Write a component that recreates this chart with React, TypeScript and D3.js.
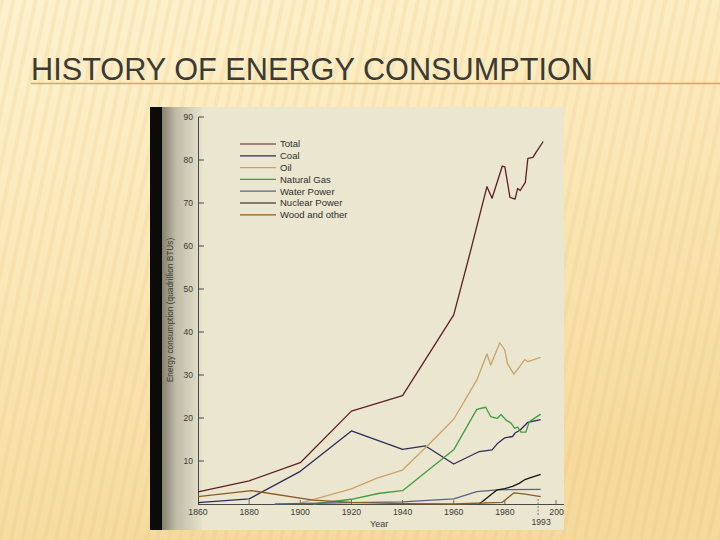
import React from "react";
import * as d3 from "d3";

// ---- Data ----
const xTickYears = [1860, 1880, 1900, 1920, 1940, 1960, 1980, 2000];
const yTickValues = [10, 20, 30, 40, 50, 60, 70, 80, 90];

const totalYears = [1860, 1880, 1900, 1920, 1940, 1960, 1966, 1973, 1975, 1979, 1980, 1982, 1984, 1985, 1986, 1988, 1989, 1991, 1992, 1995];
const totalValues = [2.8, 5.4, 9.6, 21.6, 25.2, 44, 57.5, 73.8, 71.1, 78.6, 78.4, 71.3, 70.9, 73.4, 72.9, 74.8, 80.4, 80.6, 81.6, 84.3];

const coalYears = [1860, 1880, 1900, 1920, 1940, 1949, 1960, 1970, 1975, 1977, 1980, 1983, 1984, 1986, 1989, 1994];
const coalValues = [0.3, 1.2, 7.6, 17, 12.7, 13.5, 9.3, 12.2, 12.6, 14.0, 15.4, 15.7, 16.5, 17.2, 19, 19.6];

const oilYears = [1900, 1920, 1930, 1940, 1952, 1960, 1969, 1973, 1974.5, 1978, 1980, 1981, 1983.5, 1985, 1987.8, 1989, 1994];
const oilValues = [0.2, 3.5, 6.0, 7.9, 14.9, 19.7, 28.8, 34.9, 32.3, 37.5, 35.8, 32.7, 30.2, 31.3, 33.6, 33.1, 34.1];

const gasYears = [1905, 1920, 1931, 1940, 1960, 1969, 1972.5, 1974.5, 1977, 1978.5, 1980.5, 1982.4, 1983.9, 1985, 1986.3, 1988.2, 1989.5, 1994];
const gasValues = [0, 1.1, 2.5, 3.1, 12.6, 22, 22.5, 20.3, 19.9, 20.8, 19.5, 18.8, 17.6, 17.9, 16.7, 16.7, 19.1, 20.9];

const waterYears = [1890, 1920, 1940, 1960, 1969, 1977, 1994];
const waterValues = [0, 0.3, 0.5, 1.2, 2.9, 3.3, 3.4];

const nuclearYears = [1970, 1977, 1980, 1983, 1985.6, 1987.6, 1989.5, 1994];
const nuclearValues = [0, 3.3, 3.6, 4.1, 4.8, 5.6, 6.0, 6.9];

const woodYears = [1860, 1881, 1905, 1920, 1940, 1960, 1979, 1983.6, 1988, 1994];
const woodValues = [1.7, 3.1, 0.9, 0.4, 0.1, 0, 0.4, 2.6, 2.3, 1.7];

const seriesNames = ["Total", "Coal", "Oil", "Natural Gas", "Water Power", "Nuclear Power", "Wood and other"];
const seriesColors = ["#5e1f24", "#2f2a58", "#c9a26a", "#3f9c3f", "#5a6282", "#141414", "#8b5a1e"];
const seriesYears = [totalYears, coalYears, oilYears, gasYears, waterYears, nuclearYears, woodYears];
const seriesValues = [totalValues, coalValues, oilValues, gasValues, waterValues, nuclearValues, woodValues];

export default function App() {
  const x = d3.scaleLinear().domain([1860, 2000]).range([198, 556]);
  const y = d3.scaleLinear().domain([0, 90]).range([504, 117]);
  const line = d3
    .line<[number, number]>()
    .x((d) => x(d[0]))
    .y((d) => y(d[1]));

  const font = "'Liberation Sans', Arial, sans-serif";

  return (
    <div style={{ position: "fixed", left: 0, top: 0, width: 720, height: 540 }}>
      <svg width={720} height={540} style={{ display: "block" }}>
        <defs>
          <linearGradient id="bgGrad" x1="0" y1="0" x2="0.3" y2="1">
            <stop offset="0" stopColor="#fdf2cf" />
            <stop offset="0.5" stopColor="#fbe7b6" />
            <stop offset="1" stopColor="#f5da9b" />
          </linearGradient>
          <pattern id="stripes" width="11" height="11" patternUnits="userSpaceOnUse" patternTransform="rotate(12)">
            <rect x="0" y="0" width="4" height="11" fill="#e6c480" opacity="0.2" />
          </pattern>
          <linearGradient id="leftShade" x1="0" y1="0" x2="1" y2="0">
            <stop offset="0" stopColor="#85816f" />
            <stop offset="0.35" stopColor="#c0bca8" />
            <stop offset="1" stopColor="#e6e1cb" />
          </linearGradient>
          <clipPath id="chartClip">
            <rect x={150} y={107} width={414} height={423} />
          </clipPath>
        </defs>

        {/* slide background */}
        <rect x={0} y={0} width={720} height={540} fill="url(#bgGrad)" />
        <rect x={0} y={0} width={720} height={540} fill="url(#stripes)" />

        {/* title */}
        <text
          x={31}
          y={80}
          fontFamily={font}
          fontSize={31}
          fill="#3b3a33"
          textLength={562}
          lengthAdjust="spacingAndGlyphs"
        >
          HISTORY OF ENERGY CONSUMPTION
        </text>
        <line x1={31} x2={720} y1={83.5} y2={83.5} stroke="#e0a449" strokeWidth={1.6} />

        {/* chart picture */}
        <g clipPath="url(#chartClip)">
          <rect x={150} y={107} width={414} height={423} fill="#ebe6d0" />
          <rect x={162} y={107} width={40} height={423} fill="url(#leftShade)" />
          <rect x={150} y={107} width={12} height={423} fill="#0b0b0a" />

          {/* y axis */}
          <line x1={198.5} x2={198.5} y1={y(90)} y2={y(0)} stroke="#4a4a44" strokeWidth={1} />
          {yTickValues.map((v) => (
            <g key={v}>
              <line x1={198.5} x2={204} y1={y(v)} y2={y(v)} stroke="#4a4a44" strokeWidth={1} />
              <text x={193} y={y(v)} dy="0.35em" textAnchor="end" fontFamily={font} fontSize={8.5} fill="#3a3a36">
                {v}
              </text>
            </g>
          ))}
          <text
            transform={`translate(173,310) rotate(-90)`}
            textAnchor="middle"
            fontFamily={font}
            fontSize={8.3}
            fill="#3a3a34"
          >
            Energy consumption (quadrillion BTUs)
          </text>

          {/* x axis */}
          <line x1={198} x2={564} y1={y(0) + 0.5} y2={y(0) + 0.5} stroke="#4a4a44" strokeWidth={1} />
          {xTickYears.map((yr) => (
            <g key={yr}>
              {yr > 1860 && (
                <line x1={x(yr)} x2={x(yr)} y1={y(0)} y2={y(0) - 4} stroke="#6a6a62" strokeWidth={1} />
              )}
              <text
                x={x(yr) + (yr === 2000 ? 3 : 0)}
                y={514.5}
                textAnchor="middle"
                fontFamily={font}
                fontSize={8.7}
                fill="#3a3a36"
              >
                {yr}
              </text>
            </g>
          ))}
          <line x1={x(1993)} x2={x(1993)} y1={y(0) - 5} y2={y(0) + 11} stroke="#77776e" strokeWidth={1} strokeDasharray="2,1.5" />
          <text x={x(1993) + 3} y={525} textAnchor="middle" fontFamily={font} fontSize={8.7} fill="#3a3a36">
            1993
          </text>
          <text x={370} y={527} fontFamily={font} fontSize={9} fill="#3a3a36">
            Year
          </text>

          {/* series lines */}
          {seriesNames.map((name, i) => {
            const pts = seriesYears[i].map((yr, j) => [yr, seriesValues[i][j]] as [number, number]);
            return (
              <path
                key={name}
                d={line(pts) || ""}
                fill="none"
                stroke={seriesColors[i]}
                strokeWidth={1.3}
                strokeLinejoin="round"
              />
            );
          })}

          {/* legend */}
          {seriesNames.map((name, i) => {
            const ly = 144 + i * 11.8;
            return (
              <g key={"lg" + name}>
                <line x1={240} x2={276} y1={ly} y2={ly} stroke={seriesColors[i]} strokeWidth={1.2} />
                <text x={280} y={ly} dy="0.35em" fontFamily={font} fontSize={9.5} fill="#2e2e2a">
                  {name}
                </text>
              </g>
            );
          })}
        </g>
      </svg>
    </div>
  );
}
